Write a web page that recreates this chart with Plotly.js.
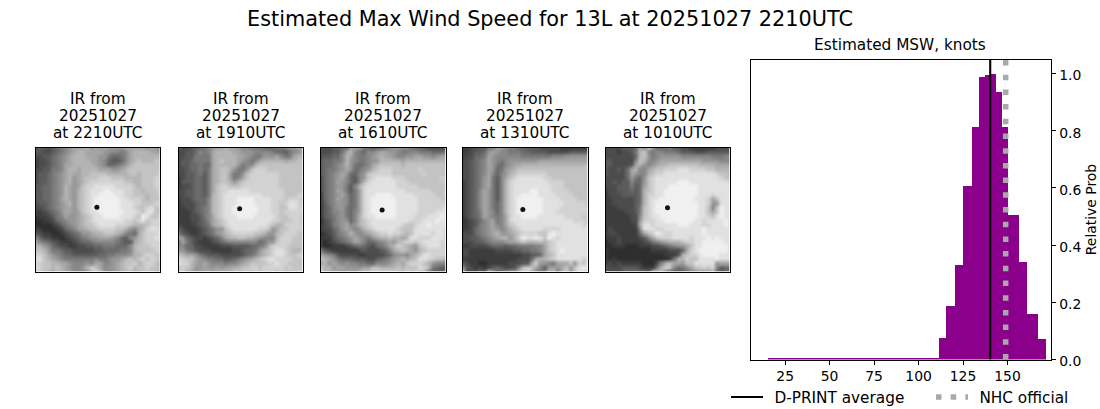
<!DOCTYPE html>
<html><head><meta charset="utf-8">
<script src="https://cdn.plot.ly/plotly-3.0.1.min.js"></script>
<style>html,body{margin:0;padding:0;background:#fff}</style></head>
<body><div id="chart" style="width:1100px;height:409px"></div>
<script>
// IR brightness grids, read by eye (hex digit = gray level, 0 dark .. f bright)
const ir2210 = ["555456789aaab9a9a9999aaaaa9a98","554456789abbaaaa998878abbbbaa9","44556789abbbaaa9976678abbbbbbb","34456789abbbbaa9865568abcbbbcc","3445678aabbbbba9866789bccccccc","4455778abbabbbbaaa99abcccccccc","4556789abaabbccccbbbbbccbccccd","4556789ab9abcccdddcccbbbbcccdd","4556789ab9abcddddddddccbbcccdd","5566789ba9acddeeeeeddddcbcccdd","5566789ba9bcdeeeffeeeddccbcccd","5566789ba9bcdeeffffeeddcccbccd","556678aba9bcdeffffffeedddcbccc","4556789ab9bcdeffffffeeeddcccdd","4456789aa9bcdeffffffeeedccdecc","3345679aa9acdeeffffffeeedceecc","3334578a99abcdeeffffeeedcfeccd","2233467899abcdeeeeeeeddcdecddd","2222346789abccdeeeedddcbbbcddd","3322234678aabccddddccb98abdeed","5433223456799abbcccba876acddde","864433234567899aaa986589bcddee","a8765433345667888887655abcdddd","bb986544334455667776668bcccddd","ccb97765544444556666778bccccdd","ddca9876655555566778889bbcddcc","eecba987777777877899abcbcdcddc","ddccbbaa988898aa889abccdbcddcb","edccbcba9889bdca899abcdbccdccb","ddcbabbaa8889cdc989abbcbbcccbb"];
const ir1910 = ["544566789aabaa98877766677899aa","44556878abbbbaa99988887665789a","44557777abbbbbaa9877999a877abb","45567777abcbbba9878abbbbbabbcc","45566766abbbbb9788bccccccccccc","44566767abccb9779cdddccccccccc","44556757abcca779cdddddddcccccc","34556657abcca78acdddddddcccccd","35556657abccb9bcddddddddcccccc","34456657acddcccdddddddddcccccc","44556657acddeeeeeddddddddccccc","44556657bcdeeeeeeeeedddddcccdd","34456668bcdeeeffffeeeedddcdddc","34445668bcdeeeffffeeeeddcdeedc","33445678bcdeeffffffeeeddcceedd","33345678bcdeeffffffeeeddcddddd","33344578acdeeeffffeeeeedccdddc","33344568abcdeeeeeeeeeeddcccddc","43334567abcdeeeeeeeeedcbbddddc","54333456799cdeeeeeeddc9accdddd","7543345679abcdddddccb99bcdddcc","a9654434568abbccbba9888bdddccc","7a754333456788888886799cdddccc","886644333344455556678bddddcccc","99765444333334456679bcdeedcbbc","cbaa976555444445678abcdeedccdd","ddcca987766556789abcdeeddddccd","eddba9a98887889abccccddeddcccc","cdcb99a99a9aabbccddcdddddcdccd","ddba9aabaabbbcccdcdcdddcdcccdc"];
const ir1610 = ["4445566aa9765667899887665444445","444557ab876889aa998778877766677","455668ba87789abaa98899aa9989aa","566778b9877899bbbbbabbbbbbbbbb","566789b97678abcccccbcccccccccc","567789a96789bcdddccccccdcccccc","56789a96689cdddddcccccccdccccc","46789a86589cdeeeedddccccccccdc","4678a98658bdeeeeeedddccccccccd","467899758bdeeeeeeedddddccccccc","4678a9757adeeeeeeeeeddddddcccc","36789a867adeeffffeeeeedddddccd","3678a9867adeffffffeeeeedddddcc","357899867adeffffffeeeeeddddddd","356899767adeffffffeeeeedddddde","356889768adeffffffeeeeeddddeee","356789768bdeefffffeeeedddeeefe","245789968bcdeeeeeeeeedddeeefee","345789a89bcdeeeeeeedccdeefeeee","344679a989bcdeeeeedccceeeeeeed","2345789b989abcddeddcbceeeedeed","33356789a9879abbcbbabeedddeeed","32345678a9866789a9bcddcdeeeedd","3223334567654678abdcba9cdeeedd","75433333345444568abcba9bcddddd","a98754444334444568998abceedddd","cba976665554456789ababceeddccb","ab9a9898877668889abacdddcb9887","dbb9aa9999aaccbbbbcbcccedb7655","cbbaa9aaabccddddddccdcdcb76566"];
const ir1310 = ["33445577a987766555444443333333","3345569a9887776655554444455555","344667a9888888777777788899999a","445678a98789999999aaaaaaaaaaaa","445678a97689aabbbbbbbbbbbbbbbc","445678a9679abccccccccccccccccc","445678a8689bcdddddddcccccccccc","445679a758acdeeeeeeddccccccccc","345679a758bdeeeeeeeeddddcccccc","345679a758bdeeeeeeeeedddcccccc","34568a9758bdeeeeffeeeddddccccc","34568a9758bdeeffffeeeeddddcccc","34568a9758bdeffffffeeeeddddccc","34568a9768bdeffffffeeeeedddddc","34568a9768bdeffffffeeeeddddddd","34567a9868bdeffffffeeedddddddd","34567a9878adeeffffeeeeeeddddcd","2345689a78adeeeeeeeeeeeeeedddc","3345789a88acdeeeeeeeeeeeeeeedd","3346789a989bcdeeeeeddddeeeeeee","4446789ab99abcddddccefeeeeeeee","44556789abb9bdfeefecfedeeeeeee","44455678889aabcbbbcbcdeeeeeeee","3344445666566777788acdeeeeeeee","4433333344445566778acdefeeeeee","4433333333333344556abceeeeeeee","33333333333334446abbcdeeeeeedd","5433223333344455ad9987aaac9dce","95434345654458cdca859a9ac9cefe","c44455c9678a9cddb878cb7bd9cedd"];
const ir1010 = ["44445556a8c96667554433333344444","44434457bc87887776555444555555","44444446bc97899999888888877788","55444448cb889aaaaaaaaaa9999888","5544445ab989abbcccccccbbbbaaaa","544546ab88abccdddeeeddddccbbbb","544446a988bcddeeeeeeeeeeeedccb","4444469769cdeeeeeeeeeeeeeeedcc","4454558669cdeeeeefffeeeeeeeeed","444555756acdeeefffffffeeeeeeee","344555656bcdeeffffffffeeeeeeee","344455556bddeeffffffffeeedeeee","334444456bdeeffffffffeeedaceee","334444456bdeffffffffffeed99eee","333444457cdeffffffffffeec8cfee","333334457cdeffffffffffeecacfee","333333448cdeefffffffffeedcefee","333333449dddeefffffffeedeeeefe","33333334aeedeeeeefffeeeddeeefe","343333338eeeddeeeeeeeeefeeeeee","344333336acdfeddeeeeeeefeeeeee","33343333458acdddeeeedeeefefeee","23343333345789abbbcddeefffffee","2233322233344567899aceeffffffe","3222222222233334446adefffffffe","322222222222223335bcddeffffeee","32322222222222237bbdcceeeefeee","34343333322248bcaa9cceeeee9aaa","5444555543337bdc8678accdcd8566","44445666665ccc76556789a9ab6566"];
const panelGrids = [ir2210, ir1910, ir1610, ir1310, ir1010];
const panelTimes = ["at 2210UTC","at 1910UTC","at 1610UTC","at 1310UTC","at 1010UTC"];
const panelLine1 = "IR from", panelDate = "20251027";
// eye position in grid units (column, row)
const eyeCols = [14.8, 14.8, 14.8, 14.5, 15.0];
const eyeRows = [14.5, 14.85, 15.1, 15.0, 14.6];

// Histogram of estimated MSW (unequal bin edges, knots)
const binEdges = [15.6,111.6,115.6,120.6,125.1,130.2,134.1,137.5,140.7,143.7,147.1,150.4,156.6,161.1,167.3,171.6];
const binProbs = [0.005,0.075,0.186,0.33,0.606,0.812,0.987,0.994,1.0,0.935,0.812,0.505,0.34,0.159,0.071];
const dprintAvg = 140.3;
const nhcOfficial = 149;
const xTicks = [25,50,75,100,125,150];
const yTicks = [0,0.2,0.4,0.6,0.8,1.0];

const W = 1100, H = 409, FONT = "DejaVu Sans, sans-serif";
const N = 30;
const panelBoxes = [[35.5,160],[178.5,302.5],[320.5,445.5],[462.5,587.5],[605.5,729.5]];
const panelTop = 147.5, panelBottom = 271.5;
const histBox = [750.5,1050.5,59.5,359.5];

const traces = [], layout = {
  width:W, height:H, margin:{l:0,r:0,t:0,b:0,autoexpand:false}, paper_bgcolor:"#fff", plot_bgcolor:"#fff",
  font:{family:FONT,color:"#000",size:13.9}, bargap:0,
  title:{text:"Estimated Max Wind Speed for 13L at 20251027 2210UTC",font:{family:FONT,size:20.8,color:"#000"},x:550/1100,xref:"paper",xanchor:"center",y:1-18.5/409,yanchor:"middle",yref:"paper"},
  annotations:[], showlegend:true,
  legend:{orientation:"h",xref:"container",yref:"container",x:726/1100,y:1-397/409,yanchor:"middle",xanchor:"left",entrywidth:158,entrywidthmode:"pixels",font:{family:FONT,size:15.3,color:"#000"},bgcolor:"rgba(0,0,0,0)",itemwidth:32,traceorder:"normal"}
};
const axisFrame = {showline:true,mirror:true,linecolor:"#000",linewidth:1,showgrid:false,zeroline:false};
const titleFont = {family:FONT,size:15.3,color:"#000"};
panelGrids.forEach((g,i)=>{
  const n=i+1, s=n===1?"":n;
  const z=g.map(r=>{const t=r.replace(/\s/g,"");return t.padEnd(N,t[t.length-1]).slice(0,N).split("").map(c=>parseInt(c,16));});
  traces.push({type:"heatmap",z:z,x0:0.5,dx:1,y0:0.5,dy:1,xaxis:"x"+s,yaxis:"y"+s,zmin:0,zmax:16,zsmooth:"best",showscale:false,colorscale:[[0,"#101010"],[1,"#ffffff"]],hoverinfo:"skip"});
  traces.push({type:"scatter",mode:"markers",x:[eyeCols[i]],y:[eyeRows[i]],xaxis:"x"+s,yaxis:"y"+s,marker:{color:"#111",size:5},showlegend:false,hoverinfo:"skip"});
  const b=panelBoxes[i];
  layout["xaxis"+s]=Object.assign({},axisFrame,{domain:[b[0]/W,b[1]/W],range:[0.5,N-0.5],anchor:"y"+s,showticklabels:false,ticks:""});
  layout["yaxis"+s]=Object.assign({},axisFrame,{domain:[1-panelBottom/H,1-panelTop/H],range:[N-0.5,0.5],anchor:"x"+s,showticklabels:false,ticks:""});
  [[panelLine1,98.5],[panelDate,116],[panelTimes[i],133.5]].forEach(([t,py])=>{
    layout.annotations.push({text:t,xref:"paper",yref:"paper",x:(b[0]+b[1])/2/W,y:1-py/H,xanchor:"center",yanchor:"middle",showarrow:false,font:titleFont});
  });
});
const mids=binProbs.map((_,i)=>(binEdges[i]+binEdges[i+1])/2), widths=binProbs.map((_,i)=>binEdges[i+1]-binEdges[i]);
traces.push({type:"bar",x:mids,y:binProbs,width:widths,marker:{color:"#8b008b",line:{width:0}},xaxis:"x6",yaxis:"y6",showlegend:false,hoverinfo:"skip"});
traces.push({type:"scatter",mode:"lines",name:"\u00a0\u200aD-PRINT average",x:[dprintAvg,dprintAvg],y:[0,1.049],xaxis:"x6",yaxis:"y6",line:{color:"#000",width:2.1}});
traces.push({type:"scatter",mode:"lines",name:"\u00a0\u200aNHC official",x:[nhcOfficial,nhcOfficial],y:[0,1.049],xaxis:"x6",yaxis:"y6",line:{color:"#a9a9a9",width:5.5,dash:"5.5px,9.2px"}});
layout.xaxis6=Object.assign({},axisFrame,{domain:[histBox[0]/W,histBox[1]/W],range:[5.5,174.2],anchor:"y6",tickvals:xTicks,ticks:"outside",ticklen:4.9,tickwidth:1,tickcolor:"#000",ticklabelstandoff:-1,tickfont:{family:FONT,size:13.9,color:"#000"}});
layout.yaxis6=Object.assign({},axisFrame,{domain:[1-histBox[3]/H,1-histBox[2]/H],range:[0,1.049],anchor:"x6",side:"right",tickvals:yTicks,ticktext:yTicks.map(v=>v.toFixed(1)),ticks:"outside",ticklen:4.9,tickwidth:1,tickcolor:"#000",ticklabelshift:2,tickfont:{family:FONT,size:13.9,color:"#000"},title:{text:"Relative Prob",font:{family:FONT,size:13.9,color:"#000"},standoff:5}});
layout.annotations.push({text:"Estimated MSW, knots",xref:"paper",yref:"paper",x:900/W,y:1-45/H,xanchor:"center",yanchor:"middle",showarrow:false,font:titleFont});
Plotly.newPlot("chart",traces,layout,{displayModeBar:false,staticPlot:true});
</script></body></html>
